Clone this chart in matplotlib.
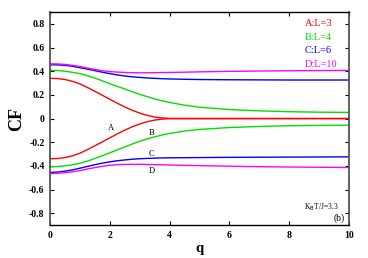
import matplotlib
matplotlib.use("Agg")
import matplotlib.pyplot as plt

plt.rcParams['font.family'] = ['Liberation Serif', 'DejaVu Serif']

q = [0, 0.25, 0.5, 0.75, 1, 1.25, 1.5, 1.75, 2, 2.25, 2.5, 2.75, 3, 3.25, 3.5, 3.75, 4,
     4.5, 5, 6, 7, 8, 9, 10]

a_up = [0.34, 0.338, 0.33, 0.315, 0.293, 0.263, 0.23, 0.197, 0.163, 0.13, 0.098, 0.07,
        0.046, 0.027, 0.013, 0.005, 0.001, 0, 0, 0, 0, 0, 0, 0]
a_lo = [-v for v in a_up]
b_up = [0.408, 0.406, 0.40, 0.391, 0.38, 0.362, 0.342, 0.319, 0.295, 0.272, 0.25, 0.227,
        0.205, 0.185, 0.166, 0.15, 0.136, 0.113, 0.096, 0.076, 0.065, 0.058, 0.054, 0.052]
b_lo = [-0.408, -0.406, -0.40, -0.391, -0.378, -0.36, -0.338, -0.314, -0.29, -0.265, -0.24,
        -0.215, -0.192, -0.172, -0.155, -0.139, -0.126, -0.106, -0.092, -0.076, -0.067,
        -0.061, -0.058, -0.056]
c_up = [0.455, 0.454, 0.45, 0.442, 0.43, 0.418, 0.405, 0.392, 0.38, 0.369, 0.36, 0.353,
        0.348, 0.343, 0.34, 0.337, 0.335, 0.332, 0.33, 0.328, 0.327, 0.326, 0.326, 0.326]
c_lo = [-0.456, -0.452, -0.445, -0.434, -0.42, -0.405, -0.39, -0.377, -0.366, -0.357, -0.35,
        -0.344, -0.34, -0.337, -0.335, -0.333, -0.332, -0.331, -0.33, -0.328, -0.327,
        -0.326, -0.325, -0.324]
d_up = [0.463, 0.462, 0.458, 0.45, 0.44, 0.427, 0.415, 0.405, 0.397, 0.393, 0.39, 0.388,
        0.387, 0.387, 0.388, 0.389, 0.39, 0.392, 0.395, 0.399, 0.402, 0.404, 0.406, 0.407]
d_lo = [-0.465, -0.463, -0.458, -0.45, -0.44, -0.427, -0.415, -0.404, -0.395, -0.39, -0.388,
        -0.387, -0.387, -0.388, -0.39, -0.391, -0.393, -0.396, -0.398, -0.403, -0.407,
        -0.41, -0.412, -0.414]

legend_txt = ["A:L=3", "B:L=4", "C:L=6", "D:L=10"]
colors = ["#ff0000", "#00e000", "#0000ff", "#ff00ff"]
curves = [(a_up, a_lo), (b_up, b_lo), (c_up, c_lo), (d_up, d_lo)]

# curve labels next to the lower branches: (q, CF)
tags = [("A", 2.05, -0.08), ("B", 3.4, -0.12), ("C", 3.4, -0.3), ("D", 3.4, -0.445)]

fig = plt.figure(figsize=(3.68, 2.58), dpi=100)
ax = fig.add_axes([0.136, 0.128, 0.812, 0.825])

for (up, lo), col in zip(curves, colors):
    ax.plot(q, up, color=col, lw=1.0)
    ax.plot(q, lo, color=col, lw=1.0)

for t, x, y in tags:
    ax.text(x, y, t, fontsize=6, ha='center', va='center')

for i, (t, col) in enumerate(zip(legend_txt, colors)):
    ax.text(0.853, 0.945 - i * 0.063, t, color=col, fontsize=7.5,
            transform=ax.transAxes, ha='left', va='center')

ax.text(0.85, 0.085, r"K$_{\rm B}$T/J=3.3", fontsize=5.5, transform=ax.transAxes,
        ha='left', va='center')
ax.text(0.985, 0.03, "(b)", fontsize=7, transform=ax.transAxes, ha='right', va='center')

ax.set_xlim(0, 10)
ax.set_ylim(-0.9, 0.9)
ax.set_xticks([0, 2, 4, 6, 8, 10])
ax.set_yticks([-0.8, -0.6, -0.4, -0.2, 0, 0.2, 0.4, 0.6, 0.8])
ax.set_xticklabels(["0", "2", "4", "6", "8", "10"])
ax.set_yticklabels(["-0.8", "-0.6", "-0.4", "-0.2", "0", "0.2", "0.4", "0.6", "0.8"])
ax.tick_params(direction='in', top=True, right=True, length=3, width=0.8,
               labelsize=7, pad=4)
for lab in ax.get_xticklabels() + ax.get_yticklabels():
    lab.set_fontweight('bold')

for side in ['left', 'right']:
    ax.spines[side].set_color('#555555')
    ax.spines[side].set_linewidth(1.3)
for side in ['top', 'bottom']:
    ax.spines[side].set_linewidth(1.0)

ax.set_xlabel("q", fontsize=10.5, fontweight='bold', labelpad=2)
ax.set_ylabel("CF", fontsize=13, fontweight='bold', labelpad=3)

fig.savefig("out.png", dpi=100)
